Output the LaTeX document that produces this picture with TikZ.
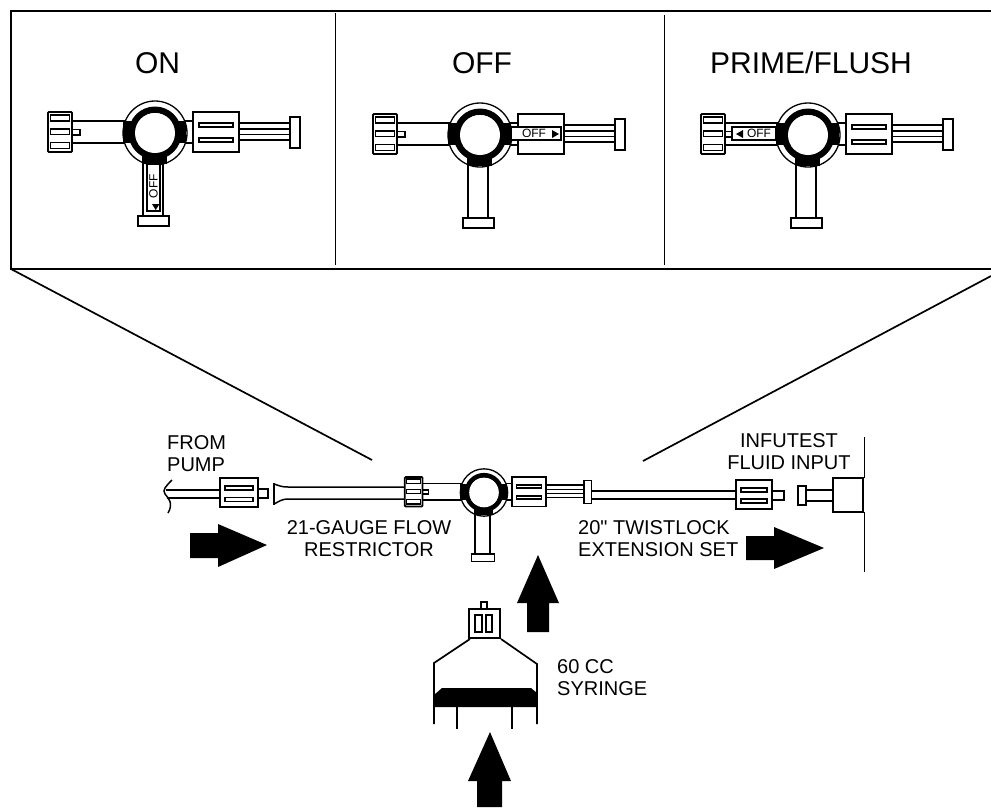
\documentclass[tikz,border=0pt]{standalone}
\usepackage{fontspec}
\setmainfont{Liberation Sans}[Ligatures=TeXOff]
\usetikzlibrary{positioning}
\tikzset{
    part/.style={draw=black, fill=white, line width=1.6pt},
    slot/.style={draw=black, fill=white, line width=1.5pt},
    stopcock/.pic={
        % tubes
        \draw[part] (-83,-12) rectangle (-30,10);
        \draw[part] (28,-12) rectangle (38,10);
        \draw[part] (-12,28) rectangle (8,83);
        % stem on the right
        \draw[line width=1.5pt] (84,-10) -- (135,-10);
        \draw[line width=1.5pt] (84,-4) -- (135,-4);
        \draw[line width=1.5pt] (84,1.5) -- (135,1.5);
        \draw[line width=1.5pt] (84,7) -- (135,7);
        \draw[part] (135,-16) rectangle (145,15);
        % ring
        \draw[part, line width=1.3pt] (0,0) circle (32);
        \fill[black] (-32,-12) rectangle (-15,10);
        \fill[black] (15,-12) rectangle (31,10);
        \fill[black] (-13,15) rectangle (12,31);
        \fill[black, even odd rule] (0,0) circle (26.5) circle (20);
        \fill[white] (0,0) circle (20);
        % caps and boxes
        \draw[slot] (-83,-3.5) rectangle (-75,2);
        \draw[part, line width=1.8pt, rounded corners=1pt] (-107,-21) rectangle (-83,19);
        \draw[slot] (-104.5,-18) rectangle (-85.5,-12);
        \draw[slot] (-104.5,-4) rectangle (-85.5,1.5);
        \draw[slot] (-104.5,9.5) rectangle (-85.5,15.5);
        \draw[part] (38,-21) rectangle (84,19);
        \draw[slot] (44,-10) rectangle (78,-6);
        \draw[slot] (44,5) rectangle (78,9);
        \draw[part] (-17,83) rectangle (14,93);
    },
}
\begin{document}
\begin{tikzpicture}[
    x=1pt, y=-1pt,
    line/.style={line width=1.7pt},
    title/.style={font=\fontsize{30}{34}\selectfont, inner sep=0pt},
    callout/.style={font=\fontsize{20}{22}\selectfont, inner sep=0pt, align=left},
    tag/.style={font=\fontsize{12}{12}\selectfont, inner sep=0pt},
    blockarrow/.style={fill=black},
    ]
        \useasboundingbox (0,0) rectangle (991,807);

        % frame with the three settings
        \draw[line] (991,11) -- (11,11) -- (11,269) -- (991,269);
        \coordinate (edgeL) at (11,269);
        \coordinate (edgeR) at (991,276);
        \coordinate (zoomL) at (372,460);
        \coordinate (zoomR) at (643,461);
        \draw[line] (edgeL) -- (zoomL);
        \draw[line] (edgeR) -- (zoomR);
        \draw[line] (335.5,13) -- (335.5,265);
        \draw[line] (664.5,15) -- (664.5,265);

        \node[title] (on) at (157.5,63) {ON};
        \node[title] (off) at (482,63) {OFF};
        \node[title] (prime) at (811,63) {PRIME/FLUSH};

        \begin{scope}[shift={(155,133)}]
            \pic (valveon) {stopcock};
            \draw[slot] (-8,31) rectangle (5,78);
            \node[tag, rotate=90] (tagon) at (-1.5,53) {OFF};
            \fill (-3,71) -- (4.5,71) -- (0.7,77) -- cycle;
        \end{scope}

        \begin{scope}[shift={(480,135)}]
            \pic (valveoff) {stopcock};
            \fill[white] (39,-12) rectangle (83,10);
            \draw[slot] (31,-8) rectangle (81,5);
            \node[tag] (tagoff) at (54,-2) {OFF};
            \fill (72,-5) -- (72,3) -- (79,-1) -- cycle;
        \end{scope}

        \begin{scope}[shift={(808,135)}]
            \pic (valveprime) {stopcock};
            \draw[slot] (-76,-8) rectangle (-32,5);
            \node[tag] (tagprime) at (-49,-2) {OFF};
            \fill (-65,-5) -- (-65,3) -- (-72,-1) -- cycle;
        \end{scope}

        % line from the pump
        \coordinate (breakA) at (172,480);
        \coordinate (breakB) at (168,513);
        \draw[line width=1.5pt] (breakA) .. controls (166,486) and (162,490) .. (165,494) .. controls (168,498) and (174,503) .. (breakB);
        \draw[line width=1.5pt] (166,490) -- (220,490);
        \draw[line width=1.5pt] (167,498) -- (220,498);
        \draw[part] (258,489) rectangle (268,498);
        \draw[part] (220,478) rectangle (258,507);
        \draw[slot] (225,486) rectangle (253,490);
        \draw[slot] (225,497.5) rectangle (253,501.5);

        % flow restrictor
        \draw[line width=1.5pt] (274,483) -- (274,505);
        \draw[line width=1.5pt] (274,484) .. controls (280,486) and (282,487) .. (288,487) -- (406,487);
        \draw[line width=1.5pt] (274,504) .. controls (280,501) and (282,499) .. (288,499) -- (406,499);

        \pic[scale=.74] (valvemain) at (484,492.5) {stopcock};

        % extension set
        \draw[line width=1.5pt] (592,491) -- (736,491);
        \draw[line width=1.5pt] (592,499) -- (736,499);
        \draw[part] (772,491) rectangle (784,500);
        \draw[part] (736,480) rectangle (772,509);
        \draw[slot] (741,488) rectangle (767,492);
        \draw[slot] (741,499) rectangle (767,503);

        % fluid input
        \draw[line width=1.5pt] (806,490) -- (833,490);
        \draw[line width=1.5pt] (806,501) -- (833,501);
        \draw[part] (798,486) rectangle (806,505);
        \draw[part] (833,478) rectangle (863,512);
        \draw[line] (864.5,437) -- (864.5,478);
        \draw[line] (864.5,512) -- (864.5,572);

        \node[callout, anchor=west] (pump) at (167,454) {FROM\\PUMP};
        \node[callout, align=center] (restrictor) at (369,538.5) {21-GAUGE FLOW\\RESTRICTOR};
        \node[callout, anchor=west] (extension) at (578,539) {20" TWISTLOCK\\EXTENSION SET};
        \node[callout, align=center] (input) at (789,451.5) {INFUTEST\\FLUID INPUT};
        \node[callout, anchor=west] (syringe) at (557,678) {60 CC\\SYRINGE};

        % syringe
        \draw[part] (481,602) rectangle (487,609);
        \draw[part] (469,609) rectangle (500,638);
        \draw[slot] (475,615) rectangle (482,632);
        \draw[slot] (486,615) rectangle (492,632);
        \draw[line] (470,639) -- (434,663) -- (434,724);
        \draw[line] (501,639) -- (537,664) -- (537,724);
        \fill (434,695) -- (442,688) -- (531,688) -- (537,693) -- (537,707) -- (434,707) -- cycle;
        \draw[line] (457,707) -- (457,729);
        \draw[line] (512,707) -- (512,729);

        % flow arrows
        \fill[blockarrow] (190,533) -- (218,533) -- (218,524) -- (267,545) -- (218,567) -- (218,558) -- (190,558) -- cycle;
        \fill[blockarrow] (746,536) -- (774,536) -- (774,527) -- (824,548) -- (774,569) -- (774,560) -- (746,560) -- cycle;
        \fill[blockarrow] (527,632) -- (527,603) -- (517,603) -- (538,555) -- (559,603) -- (549,603) -- (549,632) -- cycle;
        \fill[blockarrow] (477,807) -- (477,781) -- (468,781) -- (490,732) -- (511,781) -- (502,781) -- (502,807) -- cycle;
\end{tikzpicture}
\end{document}
